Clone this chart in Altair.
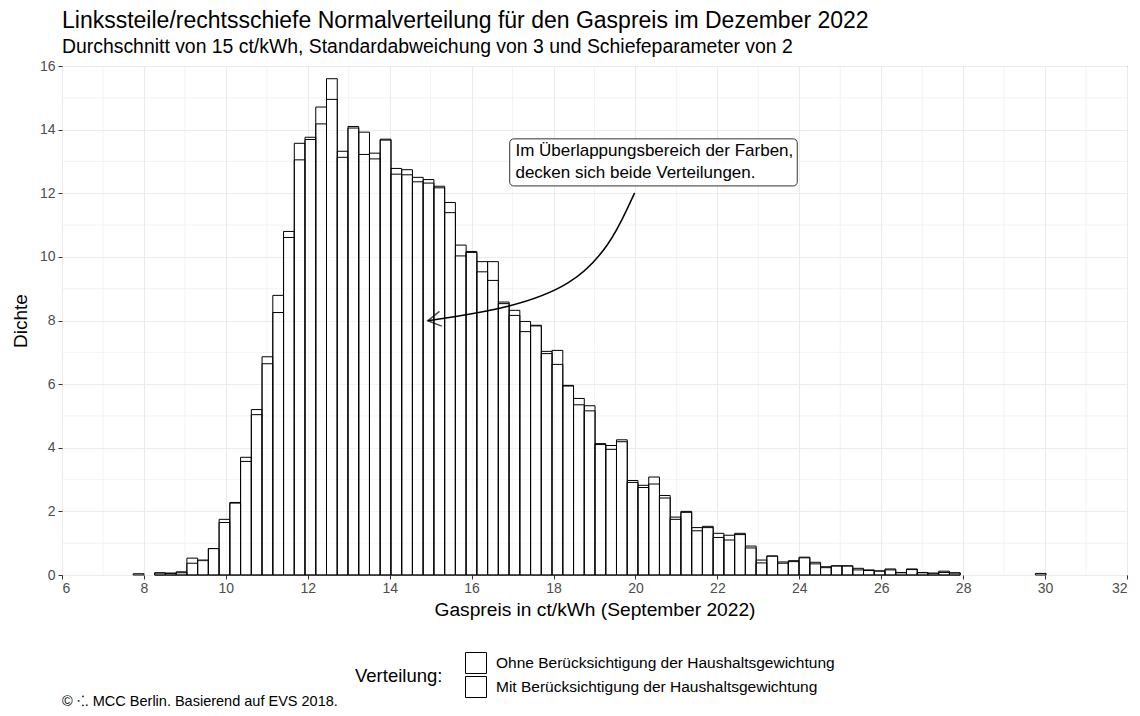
import altair as alt
import pandas as pd

FONT = "Liberation Sans"

# ---- histogram data (densities) ----
BIN_START = 7.738
BIN_WIDTH = 0.2622
series_names = [
    "Ohne Berücksichtigung der Haushaltsgewichtung",
    "Mit Berücksichtigung der Haushaltsgewichtung",
]
ohne = [0.04, 0.00, 0.07, 0.06, 0.10, 0.53, 0.45, 0.83, 1.75, 2.28,
        3.70, 5.20, 6.86, 8.79, 10.80, 13.57, 13.76, 14.71, 15.60, 13.32,
        14.10, 13.92, 13.26, 13.70, 12.78, 12.74, 12.50, 12.43, 12.22, 11.71,
        10.37, 10.17, 9.85, 9.85, 8.58, 8.32, 7.97, 7.85, 7.03, 7.06,
        5.96, 5.55, 5.32, 4.13, 4.07, 4.25, 2.97, 2.82, 3.08, 2.50,
        1.82, 2.00, 1.49, 1.53, 1.31, 1.25, 1.31, 0.91, 0.47, 0.60,
        0.41, 0.45, 0.56, 0.40, 0.26, 0.29, 0.29, 0.21, 0.16, 0.13,
        0.19, 0.08, 0.19, 0.08, 0.05, 0.12, 0.07, 0.0, 0.0, 0.0,
        0.0, 0.0, 0.0, 0.0, 0.05]
mit = [0.00, 0.00, 0.06, 0.05, 0.07, 0.37, 0.47, 0.83, 1.65, 2.26,
       3.57, 5.04, 6.64, 8.25, 10.61, 13.05, 13.69, 14.18, 14.95, 13.13,
       14.05, 13.22, 13.08, 13.67, 12.60, 12.58, 12.36, 12.32, 12.17, 11.39,
       10.03, 10.14, 9.53, 9.26, 8.53, 8.16, 7.65, 7.83, 6.96, 6.62,
       5.94, 5.35, 5.16, 4.10, 3.95, 4.19, 2.91, 2.75, 2.86, 2.42,
       1.75, 1.97, 1.39, 1.49, 1.18, 1.10, 1.27, 0.85, 0.38, 0.59,
       0.37, 0.42, 0.54, 0.35, 0.23, 0.28, 0.28, 0.16, 0.14, 0.12,
       0.16, 0.07, 0.17, 0.07, 0.06, 0.08, 0.06, 0.0, 0.0, 0.0,
       0.0, 0.0, 0.0, 0.0, 0.0]

# ---- axis ticks / grid ----
x_major = list(range(6, 33, 2))
x_minor = list(range(7, 32, 2))
y_major = list(range(0, 17, 2))
y_minor = list(range(1, 16, 2))

# ---- annotation ----
label_lines = ["Im Überlappungsbereich der Farben,", "decken sich beide Verteilungen."]
label_x = [17.07, 17.07]
label_y = [13.33, 12.64]
box_x = [16.93]
box_x2 = [23.95]
box_y = [12.23]
box_y2 = [13.71]
# arrow: start, bend control, tip
curve_x = [19.98, 18.80, 14.93]
curve_y = [12.01, 8.77, 7.99]
curve_o = [0, 1, 2]

title_text = "Linkssteile/rechtsschiefe Normalverteilung für den Gaspreis im Dezember 2022"
subtitle_text = "Durchschnitt von 15 ct/kWh, Standardabweichung von 3 und Schiefeparameter von 2"
caption_text = "© ⁖. MCC Berlin. Basierend auf EVS 2018."

rows = []
for name, vals in zip(series_names, [ohne, mit]):
    for i, v in enumerate(vals):
        if v > 0:
            x0 = BIN_START + i * BIN_WIDTH
            rows.append({"Verteilung": name, "x0": x0, "x1": x0 + BIN_WIDTH, "y": v, "y0": 0.0})
df = pd.DataFrame(rows)

x_scale = alt.Scale(domain=[6, 32], nice=False, zero=False)
y_scale = alt.Scale(domain=[0, 16], nice=False, zero=False)

x_axis = alt.Axis(values=x_major, grid=True, gridColor="#ebebeb", gridWidth=1.1,
                  domain=False, ticks=True, tickColor="#333333", tickSize=4, tickWidth=1,
                  labelColor="#4d4d4d", labelFontSize=14, labelFont=FONT, labelPadding=2,
                  title="Gaspreis in ct/kWh (September 2022)", titleFont=FONT,
                  titleFontSize=19.2, titleFontWeight="normal", titleColor="black",
                  titlePadding=5)
y_axis = alt.Axis(values=y_major, grid=True, gridColor="#ebebeb", gridWidth=1.1,
                  domain=False, ticks=True, tickColor="#333333", tickSize=4, tickWidth=1,
                  labelColor="#4d4d4d", labelFontSize=14, labelFont=FONT, labelPadding=3,
                  title="Dichte", titleFont=FONT, titleFontSize=19,
                  titleFontWeight="normal", titleColor="black", titlePadding=9)


def X(field):
    return alt.X(field, scale=x_scale, axis=x_axis)


def Y(field):
    return alt.Y(field, scale=y_scale, axis=y_axis)


minor_x = alt.Chart(pd.DataFrame({"v": x_minor})).mark_rule(
    color="#ebebeb", strokeWidth=0.6).encode(x=X("v:Q"))
minor_y = alt.Chart(pd.DataFrame({"v": y_minor})).mark_rule(
    color="#ebebeb", strokeWidth=0.6).encode(y=Y("v:Q"))

legend = alt.Legend(orient="none", legendX=293, legendY=586, direction="vertical",
                    title="Verteilung:", titleOrient="left", titleFontSize=18.5,
                    titleFontWeight="normal", titleColor="black", titleFont=FONT,
                    titleAnchor="middle", titleBaseline="middle", titlePadding=22,
                    labelFontSize=15.5, labelFont=FONT, labelColor="black", labelLimit=0,
                    symbolType="square", symbolSize=441, symbolStrokeWidth=1,
                    symbolFillColor="white", labelOffset=9, rowPadding=-6)

bars = alt.Chart(df).mark_rect(fill="white", fillOpacity=0.3, strokeWidth=1).encode(
    x=X("x0:Q"),
    x2="x1:Q",
    y=Y("y:Q"),
    y2="y0:Q",
    stroke=alt.Stroke("Verteilung:N",
                      scale=alt.Scale(domain=series_names, range=["#000000", "#000000"]),
                      legend=legend),
)

box = alt.Chart(pd.DataFrame({"x": box_x, "x2": box_x2, "y": box_y, "y2": box_y2})).mark_rect(
    fill="white", stroke="#333333", strokeWidth=1, cornerRadius=4).encode(
    x=X("x:Q"), x2="x2:Q", y=Y("y:Q"), y2="y2:Q")

label = alt.Chart(pd.DataFrame({"t": label_lines, "x": label_x, "y": label_y})).mark_text(
    align="left", baseline="middle", font=FONT, fontSize=17, color="black").encode(
    x=X("x:Q"), y=Y("y:Q"), text="t:N")

curve = alt.Chart(pd.DataFrame({"x": curve_x, "y": curve_y, "o": curve_o})).mark_line(
    color="black", strokeWidth=1.5, interpolate="basis").encode(
    x=X("x:Q"), y=Y("y:Q"), order="o:Q")

head = alt.Chart(pd.DataFrame({"x": curve_x[-1:], "y": curve_y[-1:]})).mark_point(
    shape="M2,-1.15L0,0L2,1.15", size=169, filled=False, stroke="black",
    strokeWidth=1.5, angle=351).encode(x=X("x:Q"), y=Y("y:Q"))

title = alt.Chart(pd.DataFrame({"t": [title_text]})).mark_text(
    align="left", baseline="alphabetic", font=FONT, fontSize=23, color="black").encode(
    x=alt.value(0), y=alt.value(-38), text="t:N")
subtitle = alt.Chart(pd.DataFrame({"t": [subtitle_text]})).mark_text(
    align="left", baseline="alphabetic", font=FONT, fontSize=19.4, color="black").encode(
    x=alt.value(0), y=alt.value(-13), text="t:N")
caption = alt.Chart(pd.DataFrame({"t": [caption_text]})).mark_text(
    align="left", baseline="alphabetic", font=FONT, fontSize=14.5, color="black").encode(
    x=alt.value(0), y=alt.value(640), text="t:N")

chart = alt.layer(minor_x, minor_y, bars, box, label, curve, head, title, subtitle, caption).properties(
    width=1065, height=509,
    padding={"left": 54, "top": 58, "right": 5, "bottom": 133},
    autosize=alt.AutoSizeParams(type="none"),
    background="white",
).configure_view(stroke="#333333", strokeWidth=1)

chart.save("out.html", embed_options={"renderer": "svg", "actions": False})
